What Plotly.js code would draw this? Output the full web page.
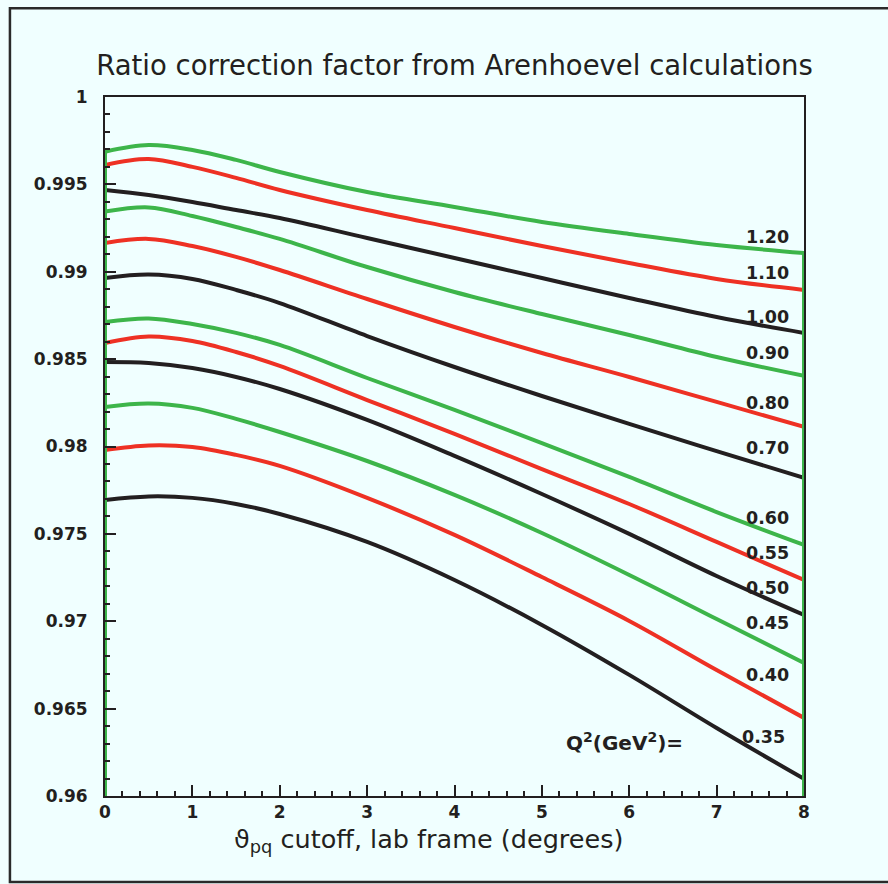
<!DOCTYPE html>
<html>
<head>
<meta charset="utf-8">
<script src="https://cdn.plot.ly/plotly-3.0.1.min.js"></script>
<style>
  html, body { margin: 0; padding: 0; background: #f0ffff; }
  #chart { width: 888px; height: 884px; }
</style>
</head>
<body>
<div id="chart"></div>
<script>
// Cutoff angle grid (degrees, lab frame)
const theta = [0, 0.5, 1, 1.5, 2, 3, 4, 5, 6, 7, 8];

// Q^2 values (GeV^2) used as curve labels
const q2Labels = ['0.35', '0.40', '0.45', '0.50', '0.55', '0.60', '0.70', '0.80', '0.90', '1.00', '1.10', '1.20'];

// Ratio correction factor for each Q^2
const r035 = [0.97694, 0.97714, 0.97706, 0.97671, 0.97614, 0.97454, 0.97236, 0.96979, 0.96693, 0.96389, 0.96098];
const r040 = [0.97980, 0.98006, 0.97997, 0.97952, 0.97889, 0.97706, 0.97494, 0.97253, 0.97002, 0.96721, 0.96447];
const r045 = [0.98226, 0.98246, 0.98221, 0.98158, 0.98083, 0.97917, 0.97723, 0.97505, 0.97265, 0.97013, 0.96761];
const r050 = [0.98484, 0.98478, 0.98449, 0.98398, 0.98329, 0.98152, 0.97946, 0.97728, 0.97500, 0.97259, 0.97036];
const r055 = [0.98592, 0.98630, 0.98604, 0.98541, 0.98461, 0.98266, 0.98072, 0.97871, 0.97671, 0.97454, 0.97236];
const r060 = [0.98713, 0.98733, 0.98701, 0.98650, 0.98581, 0.98392, 0.98209, 0.98020, 0.97826, 0.97625, 0.97437];
const r070 = [0.98964, 0.98984, 0.98959, 0.98896, 0.98821, 0.98632, 0.98455, 0.98289, 0.98129, 0.97974, 0.97820];
const r080 = [0.99165, 0.99188, 0.99147, 0.99085, 0.99010, 0.98844, 0.98684, 0.98535, 0.98398, 0.98255, 0.98112];
const r090 = [0.99344, 0.99368, 0.99319, 0.99256, 0.99188, 0.99027, 0.98884, 0.98758, 0.98638, 0.98512, 0.98404];
const r100 = [0.99468, 0.99439, 0.99399, 0.99353, 0.99308, 0.99193, 0.99079, 0.98964, 0.98850, 0.98741, 0.98650];
const r110 = [0.99611, 0.99645, 0.99600, 0.99537, 0.99468, 0.99353, 0.99250, 0.99147, 0.99050, 0.98959, 0.98896];
const r120 = [0.99687, 0.99725, 0.99697, 0.99640, 0.99571, 0.99456, 0.99371, 0.99285, 0.99216, 0.99153, 0.99107];

// Axis tick values and their labels
const yTickVals = [0.96, 0.965, 0.97, 0.975, 0.98, 0.985, 0.99, 0.995, 1];
const yTickText = ['0.96', '0.965', '0.97', '0.975', '0.98', '0.985', '0.99', '0.995', '1'];
const xTickVals = [0, 1, 2, 3, 4, 5, 6, 7, 8];
const xTickText = ['0', '1', '2', '3', '4', '5', '6', '7', '8'];

const series = [r035, r040, r045, r050, r055, r060, r070, r080, r090, r100, r110, r120];

// Curves cycle black, red, green
const BLACK = '#231f20', RED = '#ee3124', GREEN = '#3db54a';
const palette = [BLACK, RED, GREEN];

// Vertical placement of each Q^2 label near the right edge
const labelY = [0.96338, 0.96693, 0.96990, 0.97190, 0.97391, 0.97591, 0.97992, 0.98249, 0.98535, 0.98741, 0.98993, 0.99199];

const Y0 = 0.96, XMAX = 8;
const traces = [];
series.forEach((vals, i) => {
  const color = palette[i % 3];
  traces.push({
    x: theta, y: vals, type: 'scatter', mode: 'lines',
    line: { color: color, width: 4, shape: 'spline', smoothing: 1 },
    hoverinfo: 'skip', showlegend: false
  });
  // each curve is closed down to the bottom of the frame at both ends
  traces.push({
    x: [theta[0], theta[0]], y: [Y0, vals[0]], type: 'scatter', mode: 'lines',
    line: { color: color, width: 4 }, hoverinfo: 'skip', showlegend: false
  });
  traces.push({
    x: [theta[theta.length - 1], theta[theta.length - 1]], y: [vals[vals.length - 1], Y0],
    type: 'scatter', mode: 'lines',
    line: { color: color, width: 4 }, hoverinfo: 'skip', showlegend: false
  });
});

const textColor = '#231f20';
const annotations = q2Labels.map((lab, i) => ({
  x: i === 0 ? 7.81 : 7.85, y: labelY[i], xref: 'x', yref: 'y',
  text: lab, showarrow: false, xanchor: 'right', yanchor: 'middle',
  font: { family: 'DejaVu Sans', size: 17.5, color: textColor, weight: 'bold' }
}));

annotations.push({
  x: 5.94, y: 0.96309, xref: 'x', yref: 'y',
  text: 'Q<sup>2</sup>(GeV<sup>2</sup>)=', showarrow: false,
  xanchor: 'center', yanchor: 'middle',
  font: { family: 'DejaVu Sans', size: 20, color: textColor, weight: 'bold' }
});

annotations.push({
  x: 3.7, y: -0.063, xref: 'x', yref: 'paper',
  text: 'ϑ<sub>pq</sub> cutoff, lab frame (degrees)', showarrow: false,
  xanchor: 'center', yanchor: 'middle',
  font: { family: 'DejaVu Sans', size: 25.5, color: textColor }
});

const axisCommon = {
  showgrid: false, zeroline: false,
  showline: true, linecolor: textColor, linewidth: 2, mirror: true,
  ticks: 'inside', tickcolor: textColor, tickwidth: 2, ticklen: 11,
  tickmode: 'array',
  tickfont: { family: 'DejaVu Sans', size: 17, color: textColor, weight: 'bold' }
};

const layout = {
  width: 888, height: 884,
  paper_bgcolor: '#f0ffff', plot_bgcolor: '#f0ffff',
  margin: { l: 105, r: 84, t: 97, b: 88 },
  title: {
    text: 'Ratio correction factor from Arenhoevel calculations',
    x: 0.5, xref: 'paper', xanchor: 'center',
    y: 0.926, yref: 'container', yanchor: 'middle',
    font: { family: 'DejaVu Sans', size: 27.5, color: textColor }
  },
  xaxis: Object.assign({}, axisCommon, {
    range: [0, XMAX], tickvals: xTickVals, ticktext: xTickText,
    minor: { dtick: 0.2, ticks: 'inside', ticklen: 5, tickwidth: 2, tickcolor: textColor }
  }),
  yaxis: Object.assign({}, axisCommon, {
    range: [Y0, 1], tickvals: yTickVals, ticktext: yTickText,
    ticklabelstandoff: 12,
    minor: { dtick: 0.001, ticks: 'inside', ticklen: 5, tickwidth: 2, tickcolor: textColor }
  }),
  annotations: annotations,
  shapes: [{
    type: 'rect', xref: 'paper', yref: 'paper',
    x0: -0.136, x1: 1.2, y0: -0.123, y1: 1.127,
    line: { color: '#2a2a2a', width: 2.5 }, fillcolor: 'rgba(0,0,0,0)', layer: 'below'
  }]
};

Plotly.newPlot('chart', traces, layout, { displayModeBar: false, staticPlot: true });
</script>
</body>
</html>
